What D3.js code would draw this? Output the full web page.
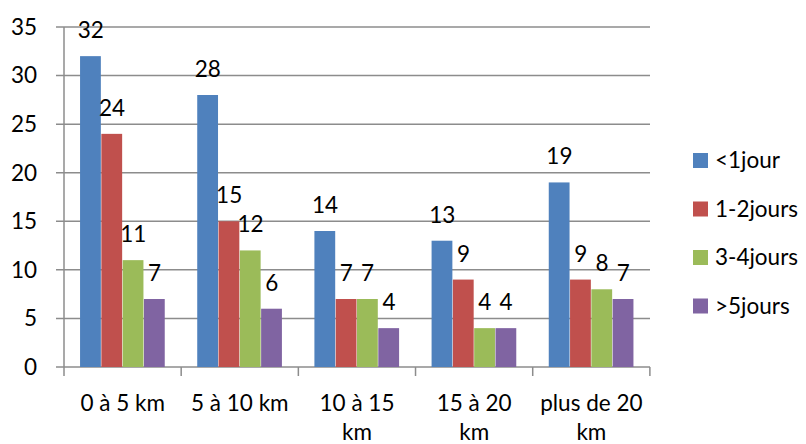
<!DOCTYPE html>
<html>
<head>
<meta charset="utf-8">
<script src="https://cdn.jsdelivr.net/npm/d3@7"></script>
<style>
  body { margin: 0; background: #fff; }
  text { font-family: Lato, "Open Sans", sans-serif; fill: #000; }
</style>
</head>
<body>
<div id="chart"></div>
<script>
// data
var categories = ["0 à 5 km", "5 à 10 km", "10 à 15 km", "15 à 20 km", "plus de 20 km"];
var categoryLines = [["0 à 5 km"], ["5 à 10 km"], ["10 à 15", "km"], ["15 à 20", "km"], ["plus de 20", "km"]];
var seriesNames = ["<1jour", "1-2jours", "3-4jours", ">5jours"];
var lessOneDay = [32, 28, 14, 13, 19];
var oneTwoDays = [24, 15, 7, 9, 9];
var threeFourDays = [11, 12, 7, 4, 8];
var moreFiveDays = [7, 6, 4, 4, 7];
var yTicks = [0, 5, 10, 15, 20, 25, 30, 35];
var colors = ["#4F81BD", "#C0504D", "#9BBB59", "#8064A2"];

var seriesValues = [lessOneDay, oneTwoDays, threeFourDays, moreFiveDays];

var W = 806, H = 444;
var margin = {top: 27, right: 156, bottom: 77, left: 64};
var width = W - margin.left - margin.right,
    height = H - margin.top - margin.bottom;
var fs = "22.5px";

var svg = d3.select("#chart").append("svg")
    .attr("width", W).attr("height", H);
var g = svg.append("g").attr("transform", "translate(" + margin.left + "," + margin.top + ")");

var x = d3.scaleBand().domain(categories).range([0, width]).paddingInner(0.273).paddingOuter(0.137);
var xSub = d3.scaleBand().domain(seriesNames).range([0, x.bandwidth()]);
var y = d3.scaleLinear().domain([0, 35]).range([height, 0]);

// gridlines
g.selectAll(".grid").data(yTicks).enter().append("line")
    .attr("x1", -8).attr("x2", width)
    .attr("y1", function(d) { return y(d); })
    .attr("y2", function(d) { return y(d); })
    .style("stroke", "#8c8c8c").style("stroke-width", 1.5);

// y labels
g.selectAll(".ylab").data(yTicks).enter().append("text")
    .attr("x", -27).attr("y", function(d) { return y(d); })
    .attr("dy", "0.35em").attr("text-anchor", "end")
    .style("font-size", fs)
    .text(function(d) { return d; });

// bars
seriesValues.forEach(function(vals, si) {
    var gs = g.append("g");
    gs.selectAll("rect").data(vals).enter().append("rect")
        .attr("x", function(d, i) { return x(categories[i]) + xSub(seriesNames[si]); })
        .attr("y", function(d) { return y(d); })
        .attr("width", xSub.bandwidth() - 0.5)
        .attr("height", function(d) { return height - y(d); })
        .style("fill", colors[si]);
    gs.selectAll("text").data(vals).enter().append("text")
        .attr("x", function(d, i) { return x(categories[i]) + xSub(seriesNames[si]) + xSub.bandwidth() / 2; })
        .attr("y", function(d) { return y(d) - 18; })
        .attr("text-anchor", "middle")
        .style("font-size", fs)
        .text(function(d) { return d; });
});

// axes
g.append("line").attr("x1", 0).attr("x2", 0).attr("y1", 0).attr("y2", height)
    .style("stroke", "#8c8c8c").style("stroke-width", 1.5);
var step = x.step();
var xTickPos = d3.range(categories.length + 1).map(function(i) { return i * step; });
g.selectAll(".xtick").data(xTickPos).enter().append("line")
    .attr("x1", function(d) { return d; }).attr("x2", function(d) { return d; })
    .attr("y1", height).attr("y2", height + 9)
    .style("stroke", "#8c8c8c").style("stroke-width", 1.5);

// category labels
categoryLines.forEach(function(lines, i) {
    var t = g.append("text")
        .attr("text-anchor", "middle")
        .style("font-size", fs);
    lines.forEach(function(l, j) {
        t.append("tspan")
            .attr("x", x(categories[i]) + x.bandwidth() / 2)
            .attr("y", height + 44 + j * 29)
            .text(l);
    });
});

// legend
var legend = svg.append("g").attr("transform", "translate(693,153)");
seriesNames.forEach(function(n, i) {
    legend.append("rect").attr("x", 0).attr("y", i * 48.5)
        .attr("width", 15).attr("height", 15).style("fill", colors[i]);
    legend.append("text").attr("x", 22).attr("y", i * 48.5 + 7.5)
        .attr("dy", "0.35em").style("font-size", fs).text(n);
});
</script>
</body>
</html>
